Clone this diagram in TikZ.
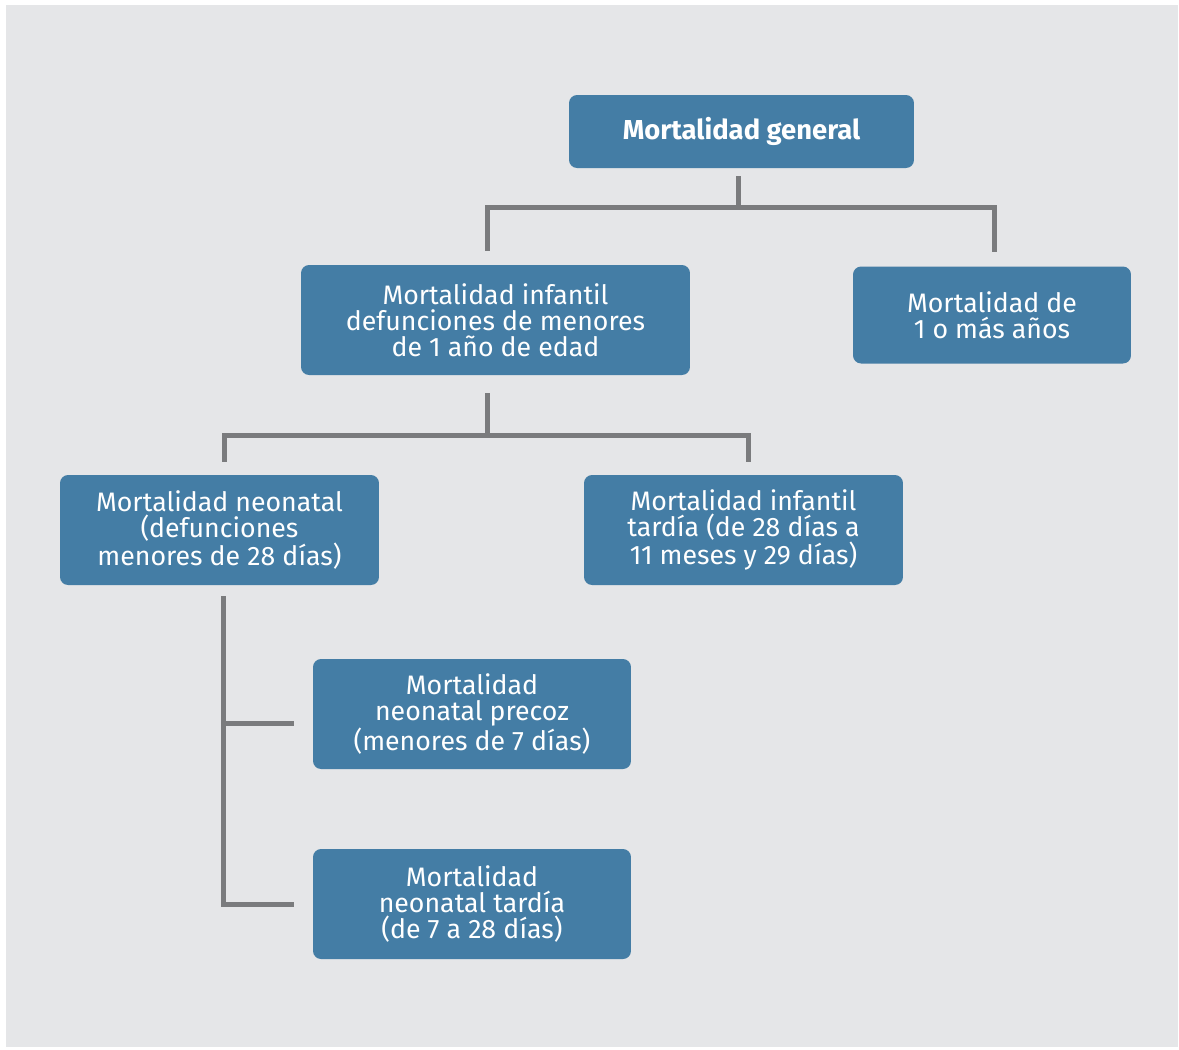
\documentclass[tikz,border=0pt]{standalone}
\usepackage{fontspec}
\setmainfont{Fira Sans}
\usepackage{tikz}
\usetikzlibrary{positioning}

\definecolor{boxblue}{HTML}{447DA5}
\definecolor{panel}{HTML}{E5E6E8}
\definecolor{linegray}{HTML}{7A7B7D}

\tikzset{
  box/.style={fill=boxblue, rounded corners=0.16cm, text=white, align=center,
    minimum height=2.2cm, font=\fontsize{15.2}{14.7}\selectfont, inner sep=0pt},
  link/.style={draw=linegray, line width=0.1cm, line join=miter},
}

\begin{document}
\begin{tikzpicture}[x=0.02cm, y=-0.02cm]
    % background
    \fill[white] (0,0) rectangle (1179,1049);
    \fill[panel] (6,5) rectangle (1178,1047);

    \node[box, minimum width=6.9cm, minimum height=1.46cm, font=\fontsize{15.6}{14.7}\selectfont\bfseries] (general) at (741.5,131.5) {Mortalidad general};
    \node[box, minimum width=7.78cm] (infantil) at (495.5,320) {Mortalidad infantil\\defunciones de menores\\de 1 año de edad};
    \node[box, minimum width=5.56cm, minimum height=1.94cm] (anos) at (992,315) {Mortalidad de\\1 o más años};
    \node[box, minimum width=6.38cm] (neonatal) at (219.5,530) {Mortalidad neonatal\\(defunciones\\menores de 28 días)};
    \node[box, minimum width=6.38cm] (tardia) at (743.5,530) {Mortalidad infantil\\tardía (de 28 días a\\11 meses y 29 días)};
    \node[box, minimum width=6.36cm] (precoz) at (472,714) {Mortalidad\\neonatal precoz\\(menores de 7 días)};
    \node[box, minimum width=6.36cm] (neotardia) at (472,904) {Mortalidad\\neonatal tardía\\(de 7 a 28 días)};

    % joints
    \coordinate (j1) at (487,207);
    \coordinate (j2) at (994,207);
    \coordinate (j3) at (487,435);
    \coordinate (j4) at (224,435);
    \coordinate (j5) at (748,435);
    \coordinate (j6) at (223,596);
    \coordinate (j7) at (223,723);

    \draw[link, shorten <=0.16cm] (general.south -| 738,0) -- (j1 -| 738,0);
    \draw[link, shorten <=0.28cm, shorten >=0.28cm] (infantil.north -| j1) -- (j1) -- (j2) -- (anos.north -| j2);

    \draw[link, shorten <=0.36cm] (infantil.south -| j3) -- (j3);
    \draw[link, shorten <=0.26cm, shorten >=0.26cm] (neonatal.north -| j4) -- (j4) -- (j5) -- (tardia.north -| j5);

    \draw[link, shorten >=0.38cm] (j6) -- (j6 |- neotardia.west) -- (neotardia.west);
    \draw[link, shorten >=0.38cm] (j7) -- (j7 -| precoz.west);
\end{tikzpicture}
\end{document}
